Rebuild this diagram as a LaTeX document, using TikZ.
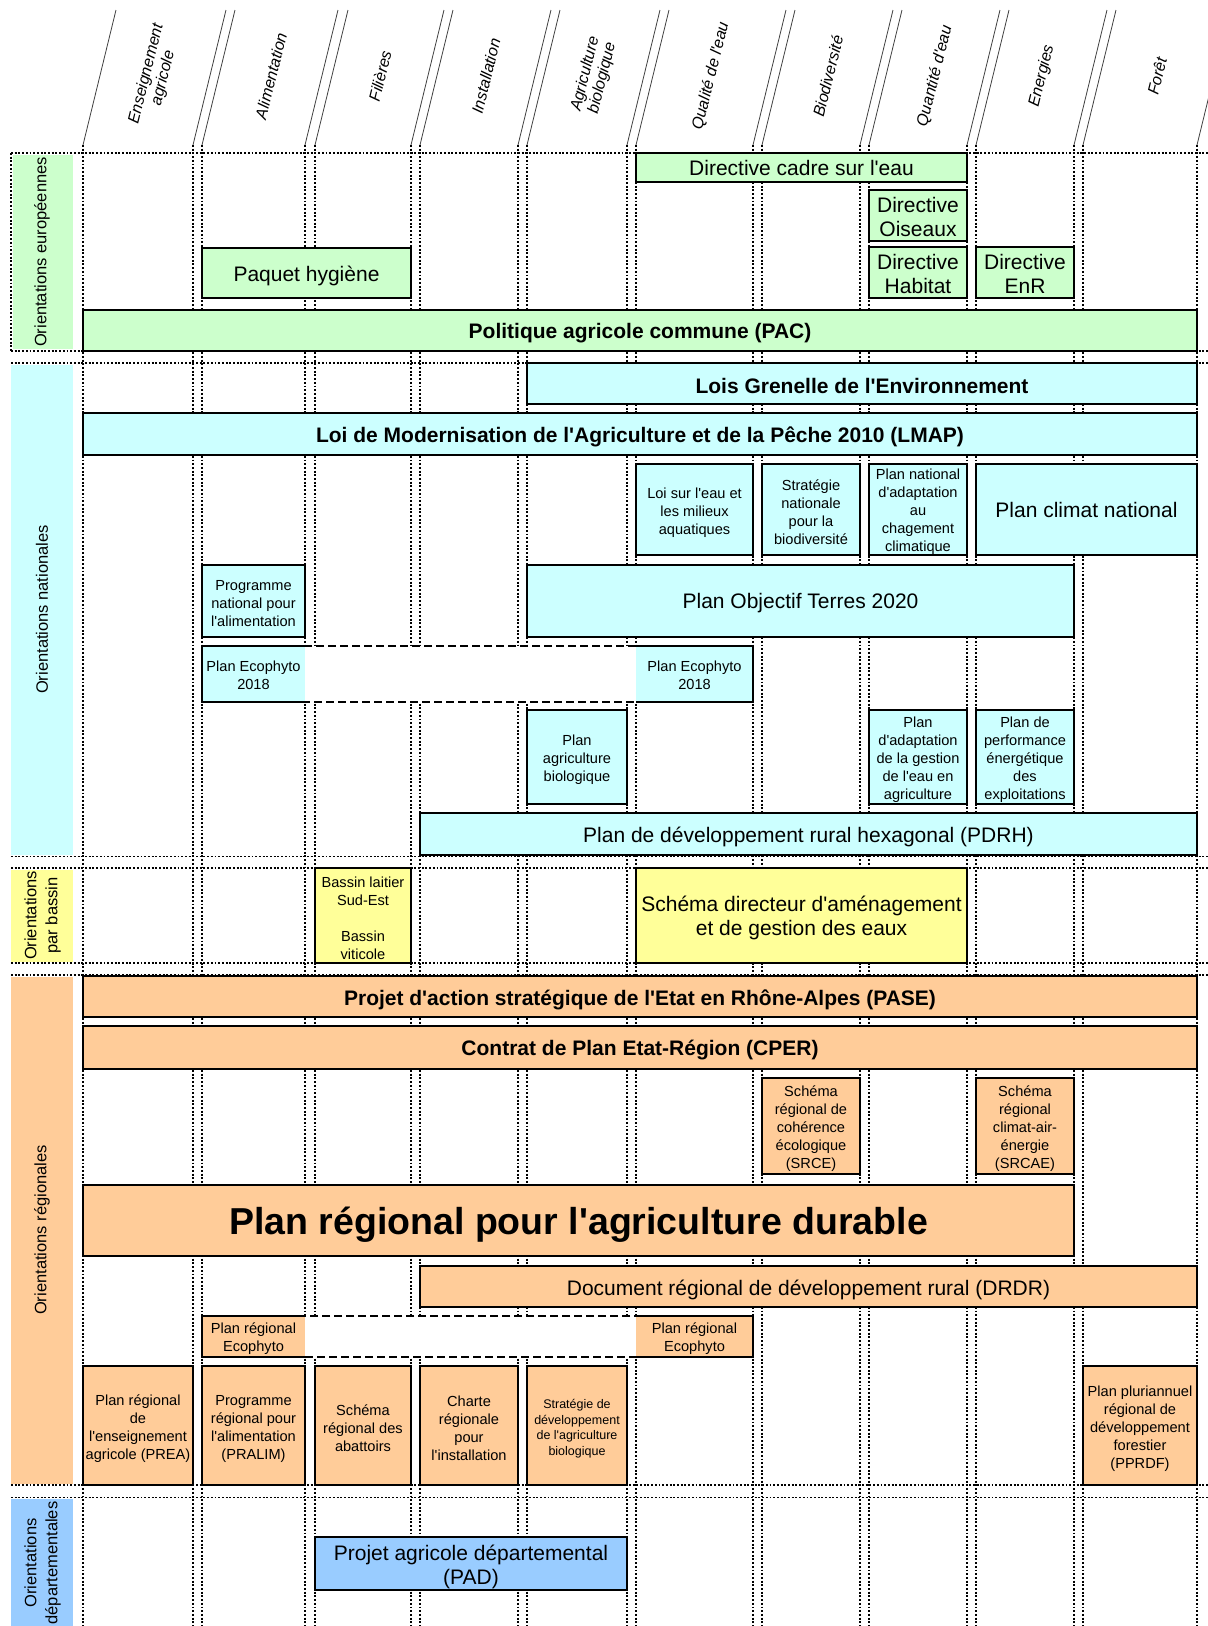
\documentclass[tikz,border=0pt]{standalone}
\usepackage{fontspec}
\setmainfont{Liberation Sans}[Ligatures=TeXOff]
\definecolor{cgreen}{HTML}{CCFFCC}
\definecolor{ccyan}{HTML}{CCFFFF}
\definecolor{cyellow}{HTML}{FFFF99}
\definecolor{corange}{HTML}{FFCC99}
\definecolor{cblue}{HTML}{99CCFF}
\newcommand\ftbig{\fontsize{21}{24}\selectfont}
\newcommand\ftsmall{\fontsize{14.6}{18}\selectfont}
\newcommand\fttiny{\fontsize{12.5}{15.5}\selectfont}
\newcommand\ftbold{\fontsize{21}{24}\selectfont\bfseries}
\newcommand\fthuge{\fontsize{37.5}{42}\selectfont\bfseries}
\newcommand\fthead{\fontsize{16}{17.5}\selectfont\itshape}
\newcommand\ftside{\fontsize{16.5}{21}\selectfont}
\tikzset{
  pbox/.style={draw=black, line width=1.6pt, inner sep=0pt, outer sep=0pt},
  gridline/.style={line width=1.6pt, dash pattern=on 1.9pt off 1.8pt},
  slantline/.style={line width=0.8pt, black!75},
  ecodash/.style={line width=1.6pt, dash pattern=on 8pt off 4pt},
  solidedge/.style={line width=1.6pt, line join=miter},
  headlbl/.style={font=\fthead, align=center, rotate=76, inner sep=0pt},
  sidelbl/.style={font=\ftside, align=center, rotate=90, inner sep=0pt},
  plain/.style={align=center, inner sep=0pt, text=black}
}
% [text shift], name, x1, y1, x2, y2, fill, font, text
\newcommand{\polbox}[9][3]{%
  \node[pbox, fill=#7, anchor=north west, minimum width={(#5-#3)*1pt}, minimum height={(#6-#4)*1pt}] (#2) at (#3,#4) {};
  \node[plain, font=#8] (#2-t) at ([yshift=-#1pt]#2.center) {#9};}
\begin{document}
\begin{tikzpicture}[x=1pt,y=-1pt]
\useasboundingbox (0,0) rectangle (1208,1626);
\begin{scope}
\clip (0,0) rectangle (1208,1626);
% header slanted lines
\foreach \e in {83,193,202,305,315,411,420,518,527,627,636,753,762,860,869,967,976,1074,1083,1197}
  \draw[slantline] (\e,145) -- ++(33,-135);
% header labels
\node[headlbl] (h1) at (155,76) {Enseignement\\agricole};
\node[headlbl] (h2) at (271,76) {Alimentation};
\node[headlbl] (h3) at (380,76) {Filières};
\node[headlbl] (h4) at (486,76) {Installation};
\node[headlbl] (h5) at (594,76) {Agriculture\\biologique};
\node[headlbl] (h6) at (711,76) {Qualité de l'eau};
\node[headlbl] (h7) at (828,76) {Biodiversité};
\node[headlbl] (h8) at (935,76) {Quantité d'eau};
\node[headlbl] (h9) at (1042,76) {Energies};
\node[headlbl] (h10) at (1157,76) {Forêt};
% section label fills
\fill[cgreen] (12.5,155) rectangle (73,349);
\fill[ccyan] (11,365) rectangle (73,855);
\fill[cyellow] (11,870) rectangle (73,962);
\fill[corange] (11,977) rectangle (73,1484);
\fill[cblue] (11,1499) rectangle (73,1626);
% column lines
\foreach \e in {83,193,202,305,315,411,420,518,527,627,636,753,762,860,869,967,976,1074,1083,1197}
  \draw[gridline] (\e,145) -- (\e,1626);
% section lines
\foreach \t/\b in {153/351,363/856.5,868/963,975/1485} {
  \draw[gridline] (11,\t) -- (1208,\t);
  \draw[gridline] (11,\b) -- (1208,\b);
}
\draw[gridline] (11,1497.5) -- (1208,1497.5);
\draw[gridline] (11,153) -- (11,351);
% section labels
\node[sidelbl] (seu) at (42,252) {Orientations européennes};
\node[sidelbl] (sna) at (42,609.5) {Orientations nationales};
\node[sidelbl] (sba) at (42.5,915.5) {Orientations\\par bassin};
\node[sidelbl] (sre) at (42,1230) {Orientations régionales};
\node[sidelbl] (sde) at (42.5,1563) {Orientations\\départementales};
% ---- European
\polbox[0]{dce}{636}{153}{967}{182}{cgreen}{\ftbig}{Directive cadre sur l'eau}
\polbox[1]{ois}{869}{190}{967}{241}{cgreen}{\ftbig}{Directive\\Oiseaux}
\polbox[1]{hab}{869}{247}{967}{298}{cgreen}{\ftbig}{Directive\\Habitat}
\polbox[1]{enr}{976}{247}{1074}{298}{cgreen}{\ftbig}{Directive\\EnR}
\polbox{hyg}{202}{248}{411}{298}{cgreen}{\ftbig}{Paquet hygiène}
\polbox{pac}{83}{310}{1197}{351}{cgreen}{\ftbold}{Politique agricole commune (PAC)}
% ---- National
\polbox[2]{gre}{527}{363}{1197}{404}{ccyan}{\ftbold}{Lois Grenelle de l'Environnement}
\polbox{lmap}{83}{413}{1197}{455}{ccyan}{\ftbold}{Loi de Modernisation de l'Agriculture et de la Pêche 2010 (LMAP)}
\polbox{leau}{636}{464}{753}{555}{ccyan}{\ftsmall}{Loi sur l'eau et\\les milieux\\aquatiques}
\polbox{snb}{762}{464}{860}{555}{ccyan}{\ftsmall}{Stratégie\\nationale\\pour la\\biodiversité}
\polbox[2]{pnacc}{869}{464}{967}{555}{ccyan}{\ftsmall}{Plan national\\d'adaptation\\au\\chagement\\climatique}
\polbox[0]{pcn}{976}{464}{1197}{555}{ccyan}{\ftbig}{Plan climat national}
\polbox{pna}{202}{565}{305}{637}{ccyan}{\ftsmall}{Programme\\national pour\\l'alimentation}
\polbox[2]{pot}{527}{565}{1074}{637}{ccyan}{\ftbig}{Plan Objectif Terres 2020}
% national Ecophyto
\draw[ecodash, fill=white] (202,646) rectangle (753,702);
\fill[ccyan] (202,646) rectangle (305,702);
\fill[ccyan] (636,646) rectangle (753,702);
\draw[solidedge] (305,646) -- (202,646) -- (202,702) -- (305,702);
\draw[solidedge] (636,646) -- (753,646) -- (753,702) -- (636,702);
\node[plain, font=\ftsmall] (eco1) at (253.5,675) {Plan Ecophyto\\2018};
\node[plain, font=\ftsmall] (eco2) at (694.5,675) {Plan Ecophyto\\2018};
\polbox{pab}{527}{710}{627}{804}{ccyan}{\ftsmall}{Plan\\agriculture\\biologique}
\polbox{pagea}{869}{710}{967}{804}{ccyan}{\ftsmall}{Plan\\d'adaptation\\de la gestion\\de l'eau en\\agriculture}
\polbox{ppe}{976}{710}{1074}{804}{ccyan}{\ftsmall}{Plan de\\performance\\énergétique\\des\\exploitations}
\polbox{pdrh}{420}{813}{1197}{855}{ccyan}{\ftbig}{Plan de développement rural hexagonal (PDRH)}
% ---- Bassin
\polbox{bas}{315}{868}{411}{963}{cyellow}{\ftsmall}{Bassin laitier\\Sud-Est\\[17.5pt]Bassin\\viticole}
\polbox[2]{sdage}{636}{868}{967}{963}{cyellow}{\ftbig}{Schéma directeur d'aménagement\\et de gestion des eaux}
% ---- Regional
\polbox{pase}{83}{976}{1197}{1017}{corange}{\ftbold}{Projet d'action stratégique de l'Etat en Rhône-Alpes (PASE)}
\polbox{cper}{83}{1026}{1197}{1069}{corange}{\ftbold}{Contrat de Plan Etat-Région (CPER)}
\polbox{srce}{762}{1078}{860}{1174}{corange}{\ftsmall}{Schéma\\régional de\\cohérence\\écologique\\(SRCE)}
\polbox{srcae}{976}{1078}{1074}{1174}{corange}{\ftsmall}{Schéma\\régional\\climat-air-\\énergie\\(SRCAE)}
\polbox[4]{prad}{83}{1185}{1074}{1256}{corange}{\fthuge}{Plan régional pour l'agriculture durable}
\polbox{drdr}{420}{1266}{1197}{1307}{corange}{\ftbig}{Document régional de développement rural (DRDR)}
% regional Ecophyto
\draw[ecodash, fill=white] (202,1316) rectangle (753,1357);
\fill[corange] (202,1316) rectangle (305,1357);
\fill[corange] (636,1316) rectangle (753,1357);
\draw[solidedge] (305,1316) -- (202,1316) -- (202,1357) -- (305,1357);
\draw[solidedge] (636,1316) -- (753,1316) -- (753,1357) -- (636,1357);
\node[plain, font=\ftsmall] (reco1) at (253.5,1339) {Plan régional\\Ecophyto};
\node[plain, font=\ftsmall] (reco2) at (694.5,1339) {Plan régional\\Ecophyto};
\polbox{prea}{83}{1366}{193}{1485}{corange}{\ftsmall}{Plan régional\\de\\l'enseignement\\agricole (PREA)}
\polbox{pralim}{202}{1366}{305}{1485}{corange}{\ftsmall}{Programme\\régional pour\\l'alimentation\\(PRALIM)}
\polbox{abat}{315}{1366}{411}{1485}{corange}{\ftsmall}{Schéma\\régional des\\abattoirs}
\polbox{charte}{420}{1366}{518}{1485}{corange}{\ftsmall}{Charte\\régionale\\pour\\l'installation}
\polbox{sdab}{527}{1366}{627}{1485}{corange}{\fttiny}{Stratégie de\\développement\\de l'agriculture\\biologique}
\polbox{pprdf}{1083}{1366}{1197}{1485}{corange}{\ftsmall}{Plan pluriannuel\\régional de\\développement\\forestier\\(PPRDF)}
% ---- Departmental
\polbox{pad}{315}{1537}{627}{1590}{cblue}{\ftbig}{Projet agricole départemental\\(PAD)}
\end{scope}
\end{tikzpicture}
\end{document}
